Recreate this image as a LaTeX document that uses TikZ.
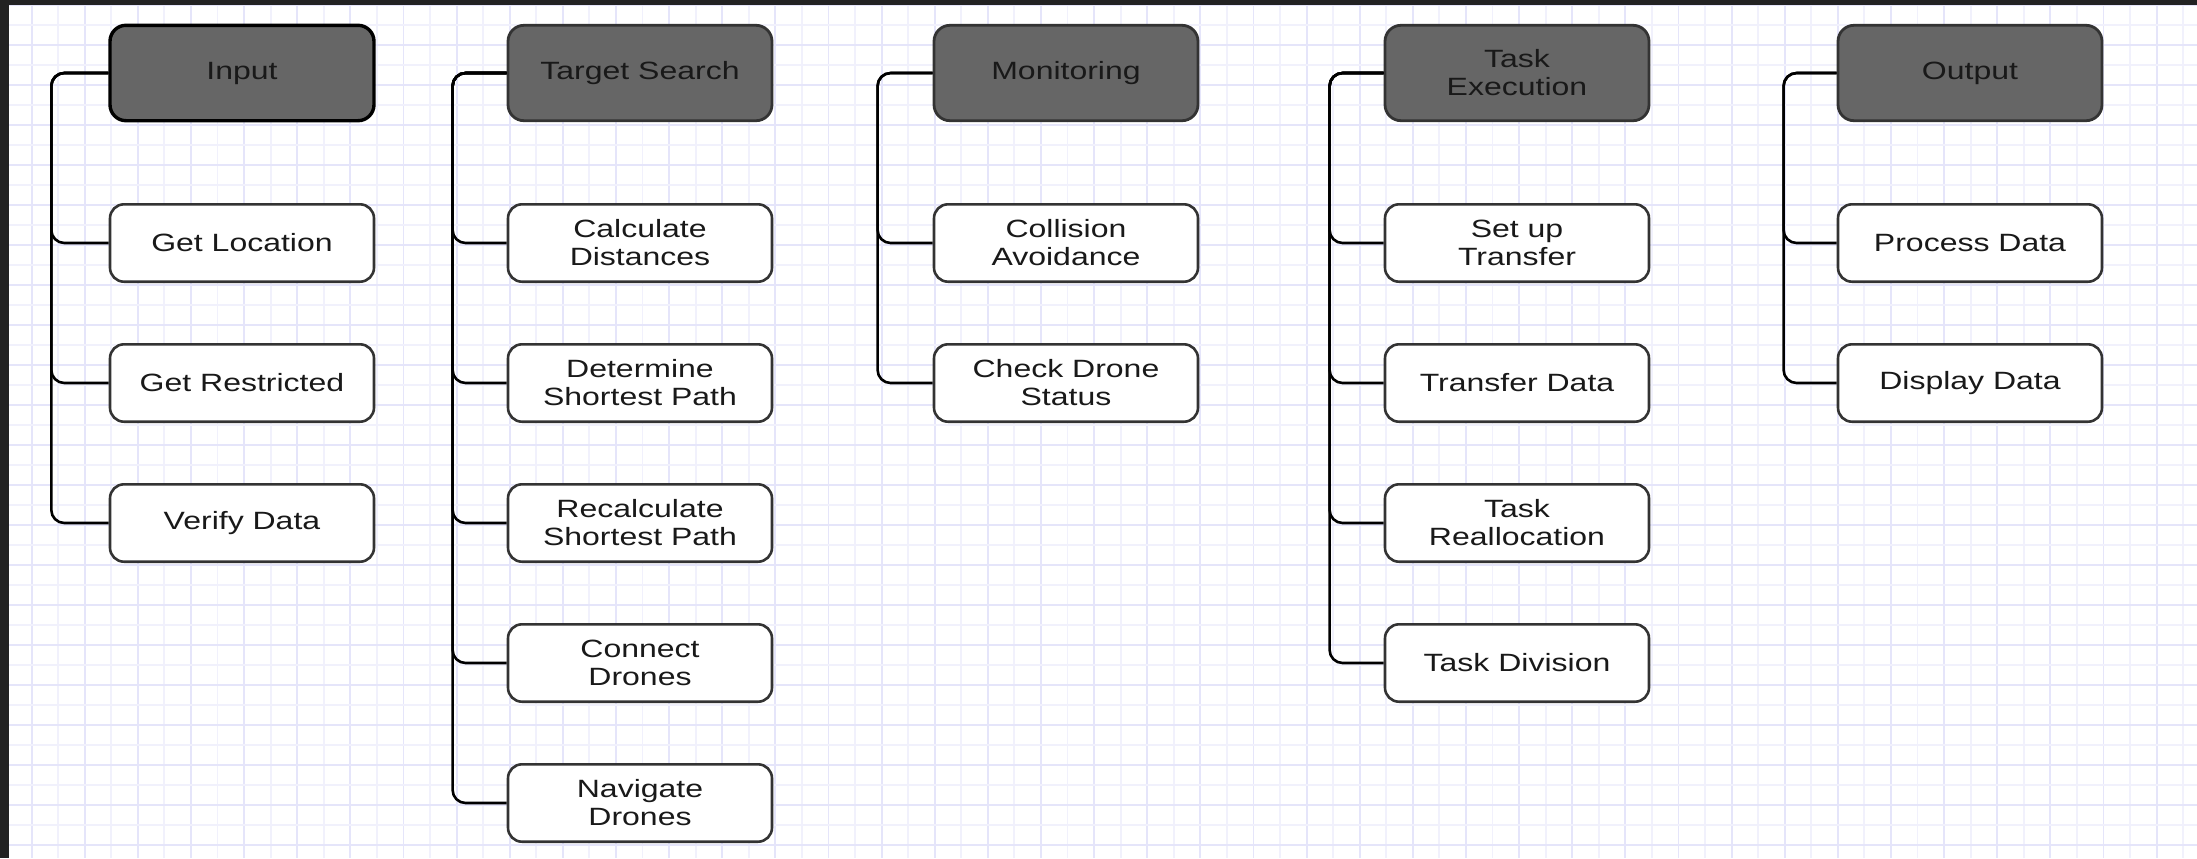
\documentclass[tikz,border=0pt]{standalone}
\usepackage{fontspec}
\setmainfont{Liberation Sans}[FakeStretch=1.28]
\definecolor{headfill}{HTML}{666666}
\definecolor{boxline}{HTML}{333333}
\definecolor{gridmajor}{HTML}{E5E5FA}
\definecolor{gridminor}{HTML}{F1F1FC}
\definecolor{framecol}{HTML}{222222}
\tikzset{
  head/.style={draw=boxline, line width=1.4pt, fill=headfill, rounded corners=8pt,
    minimum width=132pt, minimum height=47.7pt, align=center,
    font=\fontsize{12.5}{14}\selectfont, text=black!90},
  leaf/.style={draw=boxline, line width=1.3pt, fill=white, rounded corners=7pt,
    minimum width=132pt, minimum height=38.7pt, align=center,
    font=\fontsize{12.5}{14}\selectfont, text=black!90},
  link/.style={line width=1.3pt, rounded corners=6.5pt},
  gridline/.style={line width=0.9pt}
}
\begin{document}
\begin{tikzpicture}[x=0.5pt,y=-0.5pt]
\useasboundingbox (0,0) rectangle (2197,858);
\fill[white] (0,0) rectangle (2197,858);
% background grid
\foreach \i in {0,...,41} \draw[gridline,gridminor] ({5+53.125*\i},0) -- ++(0,858);
\foreach \i in {0,...,41} \draw[gridline,gridmajor] ({31.6+53.125*\i},0) -- ++(0,858);
\foreach \i in {0,...,21} \draw[gridline,gridminor] (0,{25+40*\i}) -- ++(2197,0);
\foreach \i in {0,...,21} \draw[gridline,gridmajor] (0,{5+40*\i}) -- ++(2197,0);
\fill[framecol] (0,0) rectangle (2197,5);
\fill[framecol] (0,0) rectangle (9,858);
% input
\node[head, draw=black, line width=1.7pt] (input) at (242,73) {Input};
\node[leaf] (getloc) at (242,243) {Get Location};
\node[leaf] (getres) at (242,383) {Get Restricted};
\node[leaf] (verify) at (242,523) {Verify Data};
% target search
\node[head] (search) at (640,73) {Target Search};
\node[leaf] (calcdist) at (640,243) {Calculate\\Distances};
\node[leaf] (shortest) at (640,383) {Determine\\Shortest Path};
\node[leaf] (recalc) at (640,523) {Recalculate\\Shortest Path};
\node[leaf] (connect) at (640,663) {Connect\\Drones};
\node[leaf] (navigate) at (640,803) {Navigate\\Drones};
% monitoring
\node[head] (monitor) at (1066,73) {Monitoring};
\node[leaf] (collision) at (1066,243) {Collision\\Avoidance};
\node[leaf] (status) at (1066,383) {Check Drone\\Status};
% task execution
\node[head] (task) at (1517,73) {Task\\Execution};
\node[leaf] (setup) at (1517,243) {Set up\\Transfer};
\node[leaf] (transfer) at (1517,383) {Transfer Data};
\node[leaf] (realloc) at (1517,523) {Task\\Reallocation};
\node[leaf] (division) at (1517,663) {Task Division};
% output
\node[head] (output) at (1970,73) {Output};
\node[leaf] (process) at (1970,243) {Process Data};
\node[leaf] (display) at (1970,383) {Display Data};
% connectors
\draw[link] (input.west) -- ++(-57,0) |- (getloc.west);
\draw[link] (input.west) -- ++(-57,0) |- (getres.west);
\draw[link] (input.west) -- ++(-57,0) |- (verify.west);
\draw[link] (search.west) -- ++(-54,0) |- (calcdist.west);
\draw[link] (search.west) -- ++(-54,0) |- (shortest.west);
\draw[link] (search.west) -- ++(-54,0) |- (recalc.west);
\draw[link] (search.west) -- ++(-54,0) |- (connect.west);
\draw[link] (search.west) -- ++(-54,0) |- (navigate.west);
\draw[link] (monitor.west) -- ++(-55,0) |- (collision.west);
\draw[link] (monitor.west) -- ++(-55,0) |- (status.west);
\draw[link] (task.west) -- ++(-54,0) |- (setup.west);
\draw[link] (task.west) -- ++(-54,0) |- (transfer.west);
\draw[link] (task.west) -- ++(-54,0) |- (realloc.west);
\draw[link] (task.west) -- ++(-54,0) |- (division.west);
\draw[link] (output.west) -- ++(-53,0) |- (process.west);
\draw[link] (output.west) -- ++(-53,0) |- (display.west);
\end{tikzpicture}
\end{document}
